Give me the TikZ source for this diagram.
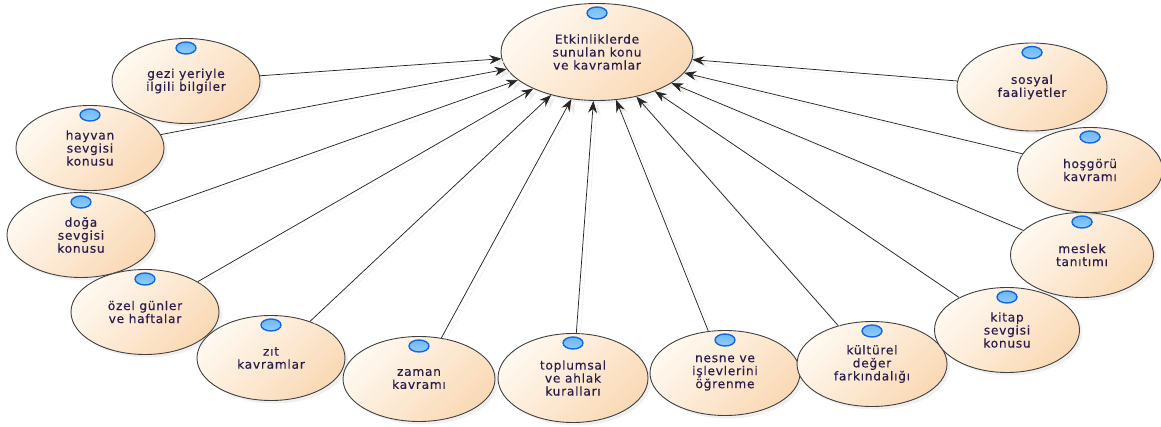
\documentclass[tikz,border=0pt]{standalone}
\usepackage{fontspec}
\setmainfont{DejaVu Sans}[LetterSpace=6, FakeBold=0.3]
\usetikzlibrary{arrows.meta,shapes.geometric,shadows}
\definecolor{topiclight}{HTML}{FFF9F1}
\definecolor{topicdark}{HTML}{FAD9B5}
\definecolor{topictext}{HTML}{2A1D4C}
\definecolor{iconblue}{HTML}{1668DA}
\definecolor{iconsky}{HTML}{2F9BF3}
\definecolor{iconwhite}{HTML}{EAF8FF}

\tikzset{
  topic/.style={ellipse, draw=black!75, line width=0.9pt,
    top color=topiclight, bottom color=topicdark, shading angle=45,
    minimum width=148pt, minimum height=85pt, inner sep=0pt,
    align=center, text=topictext, font=\fontsize{12.2}{13}\selectfont,
    drop shadow={shadow xshift=3pt, shadow yshift=-3pt, opacity=0.12},
    path picture={\draw[draw=iconblue, line width=1.4pt, inner color=iconwhite, outer color=iconsky]
      ([yshift=-9.5pt]path picture bounding box.north) ellipse (10pt and 6pt);}},
  link/.style={draw=black!85, line width=0.75pt, -{Stealth[length=12pt,width=9pt]},
    preaction={draw=black!8, transform canvas={shift={(4pt,-3pt)}}}}
}

\begin{document}
\begin{tikzpicture}[x=1pt,y=-1pt]
    \useasboundingbox (0,0) rectangle (1161,427);
    % centre and the topics round it
    \node[topic, minimum width=192pt, minimum height=97pt] (etkinlik) at (597,52) {Etkinliklerde\\sunulan konu\\ve kavramlar};
    \node[topic] (gezi) at (186,81) {gezi yeriyle\\ilgili bilgiler};
    \node[topic] (hayvan) at (90,148) {hayvan\\sevgisi\\konusu};
    \node[topic] (doga) at (81,235) {doğa\\sevgisi\\konusu};
    \node[topic] (ozel) at (145,312) {özel günler\\ve haftalar};
    \node[topic] (zit) at (271,358) {zıt\\kavramlar};
    \node[topic, minimum width=152pt] (zaman) at (419,379) {zaman\\kavramı};
    \node[topic, minimum width=150pt, minimum height=89pt] (toplum) at (573,378) {toplumsal\\ve ahlak\\kuralları};
    \node[topic, minimum width=150pt] (nesne) at (725,373) {nesne ve\\işlevlerini\\öğrenme};
    \node[topic, minimum width=150pt] (kultur) at (872,364) {kültürel\\değer\\farkındalığı};
    \node[topic, minimum width=145pt] (kitap) at (1007,330) {kitap\\sevgisi\\konusu};
    \node[topic, minimum width=143pt] (meslek) at (1082,255) {meslek\\tanıtımı};
    \node[topic, minimum width=145pt] (hosgoru) at (1090,170) {hoşgörü\\kavramı};
    \node[topic, minimum width=150pt, minimum height=88pt] (sosyal) at (1032,87) {sosyal\\faaliyetler};
    % links to the centre
    \draw[link] (gezi) -- (etkinlik);
    \draw[link] (hayvan) -- (etkinlik);
    \draw[link] (doga) -- (etkinlik);
    \draw[link] (ozel) -- (etkinlik);
    \draw[link] (zit) -- (etkinlik);
    \draw[link] (zaman) -- (etkinlik);
    \draw[link] (toplum) -- (etkinlik);
    \draw[link] (nesne) -- (etkinlik);
    \draw[link] (kultur) -- (etkinlik);
    \draw[link] (kitap) -- (etkinlik);
    \draw[link] (meslek) -- (etkinlik);
    \draw[link] (hosgoru) -- (etkinlik);
    \draw[link] (sosyal) -- (etkinlik);
\end{tikzpicture}
\end{document}
